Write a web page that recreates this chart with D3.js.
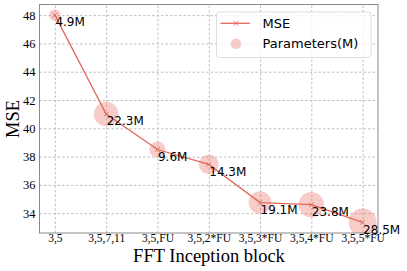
<!DOCTYPE html>
<html><head><meta charset="utf-8">
<script src="https://cdn.jsdelivr.net/npm/d3@7"></script>
<style>body{margin:0;background:#fff}svg{display:block}</style>
</head><body>
<svg id="c" width="407" height="271"></svg>
<script>
const categories = ["3,5","3,5,7,11","3,5,FU","3,5,2*FU","3,5,3*FU","3,5,4*FU","3,5,5*FU"];
const mseValues = [48.0, 41.0, 38.5, 37.45, 34.75, 34.6, 33.35];
const paramValues = [4.9, 22.3, 9.6, 14.3, 19.1, 23.8, 28.5];
const paramLabels = ["4.9M","22.3M","9.6M","14.3M","19.1M","23.8M","28.5M"];
const yTicks = [34,36,38,40,42,44,46,48];

const svg = d3.select("#c");
const L = 39.5, R = 378, T = 4.5, B = 233;
const x = d3.scaleLinear().domain([-0.3, 6.3]).range([L, R]);
const y = d3.scaleLinear().domain([32.6, 48.75]).range([B, T]);
const rScale = d3.scaleSqrt().domain([0, 30]).range([0, 2.6*Math.sqrt(30)]);

const idx = categories.map((c,i)=>i);

svg.append("defs").append("clipPath").attr("id","plotclip")
  .append("rect").attr("x",L).attr("y",T).attr("width",R-L).attr("height",B-T);

// grid
const gx = svg.append("g").attr("transform",`translate(0,${B})`)
  .call(d3.axisBottom(x).tickValues(idx).tickSize(-(B-T)).tickFormat(""));
const gy = svg.append("g").attr("transform",`translate(${L},0)`)
  .call(d3.axisLeft(y).tickValues(yTicks).tickSize(-(R-L)).tickFormat(""));
[gx,gy].forEach(g=>{
  g.select(".domain").remove();
  g.selectAll(".tick line").attr("stroke","#b0b0b0").attr("stroke-width",0.8).attr("stroke-dasharray","2.5,2");
});

// axes labels
const ax = svg.append("g").attr("transform",`translate(0,${B})`)
  .call(d3.axisBottom(x).tickValues(idx).tickSize(0).tickPadding(1).tickFormat(i=>categories[i]));
ax.select(".domain").remove();
ax.selectAll("text").attr("font-family","'Liberation Serif','Times New Roman',serif").attr("font-size","11.5px").attr("fill","#000");

const ay = svg.append("g").attr("transform",`translate(${L},0)`)
  .call(d3.axisLeft(y).tickValues(yTicks).tickSize(0).tickPadding(4).tickFormat(d3.format("d")));
ay.select(".domain").remove();
ay.selectAll("text").attr("font-family","'Liberation Serif','Times New Roman',serif").attr("font-size","12.5px").attr("fill","#000");

// bubbles
svg.append("g").attr("clip-path","url(#plotclip)").selectAll("circle").data(idx).join("circle")
  .attr("cx",i=>x(i)).attr("cy",i=>y(mseValues[i])).attr("r",i=>rScale(paramValues[i]))
  .attr("fill","rgba(232,110,100,0.35)");

// spines
svg.append("rect").attr("x",L).attr("y",T).attr("width",R-L).attr("height",B-T)
  .attr("fill","none").attr("stroke","#8a8a8a").attr("stroke-width",1);

// line
const lineColor = "#e2685a";
svg.append("path").datum(idx)
  .attr("d", d3.line().x(i=>x(i)).y(i=>y(mseValues[i])))
  .attr("fill","none").attr("stroke",lineColor).attr("stroke-width",1.3);
const mk = 2.4;
svg.append("g").selectAll("path").data(idx).join("path")
  .attr("d",i=>{const cx=x(i),cy=y(mseValues[i]);return `M${cx-mk},${cy-mk}L${cx+mk},${cy+mk}M${cx-mk},${cy+mk}L${cx+mk},${cy-mk}`;})
  .attr("stroke",lineColor).attr("stroke-width",0.9);

// data labels
svg.append("g").selectAll("text").data(idx).join("text")
  .attr("x",i=>x(i)+0.5).attr("y",i=>y(mseValues[i])+11.3)
  .attr("font-family","'DejaVu Sans',sans-serif").attr("font-size","12px").attr("fill","#000")
  .text(i=>paramLabels[i]);

// axis titles
svg.append("text").attr("x",209).attr("y",261.5).attr("text-anchor","middle")
  .attr("font-family","'Liberation Serif','Times New Roman',serif").attr("font-size","18.5px").text("FFT Inception block");
svg.append("text").attr("transform","translate(18.5,119) rotate(-90)").attr("text-anchor","middle")
  .attr("font-family","'Liberation Serif','Times New Roman',serif").attr("font-size","18.5px").text("MSE");

// legend
const lg = svg.append("g");
lg.append("rect").attr("x",216.5).attr("y",12).attr("width",154.5).attr("height",45.5).attr("rx",3)
  .attr("fill","rgba(255,255,255,0.8)").attr("stroke","#d6d6d6").attr("stroke-width",0.8);
lg.append("line").attr("x1",220.5).attr("x2",250).attr("y1",23.3).attr("y2",23.3).attr("stroke",lineColor).attr("stroke-width",1.3);
lg.append("path").attr("d",`M${236-mk},${23.3-mk}L${236+mk},${23.3+mk}M${236-mk},${23.3+mk}L${236+mk},${23.3-mk}`).attr("stroke",lineColor).attr("stroke-width",0.9);
lg.append("circle").attr("cx",236).attr("cy",43.8).attr("r",5.3).attr("fill","rgba(232,110,100,0.35)");
lg.append("text").attr("x",262.5).attr("y",27.5).attr("font-family","'DejaVu Sans',sans-serif").attr("font-size","13px").text("MSE");
lg.append("text").attr("x",262.5).attr("y",48).attr("font-family","'DejaVu Sans',sans-serif").attr("font-size","13px").text("Parameters(M)");
</script>
</body></html>
